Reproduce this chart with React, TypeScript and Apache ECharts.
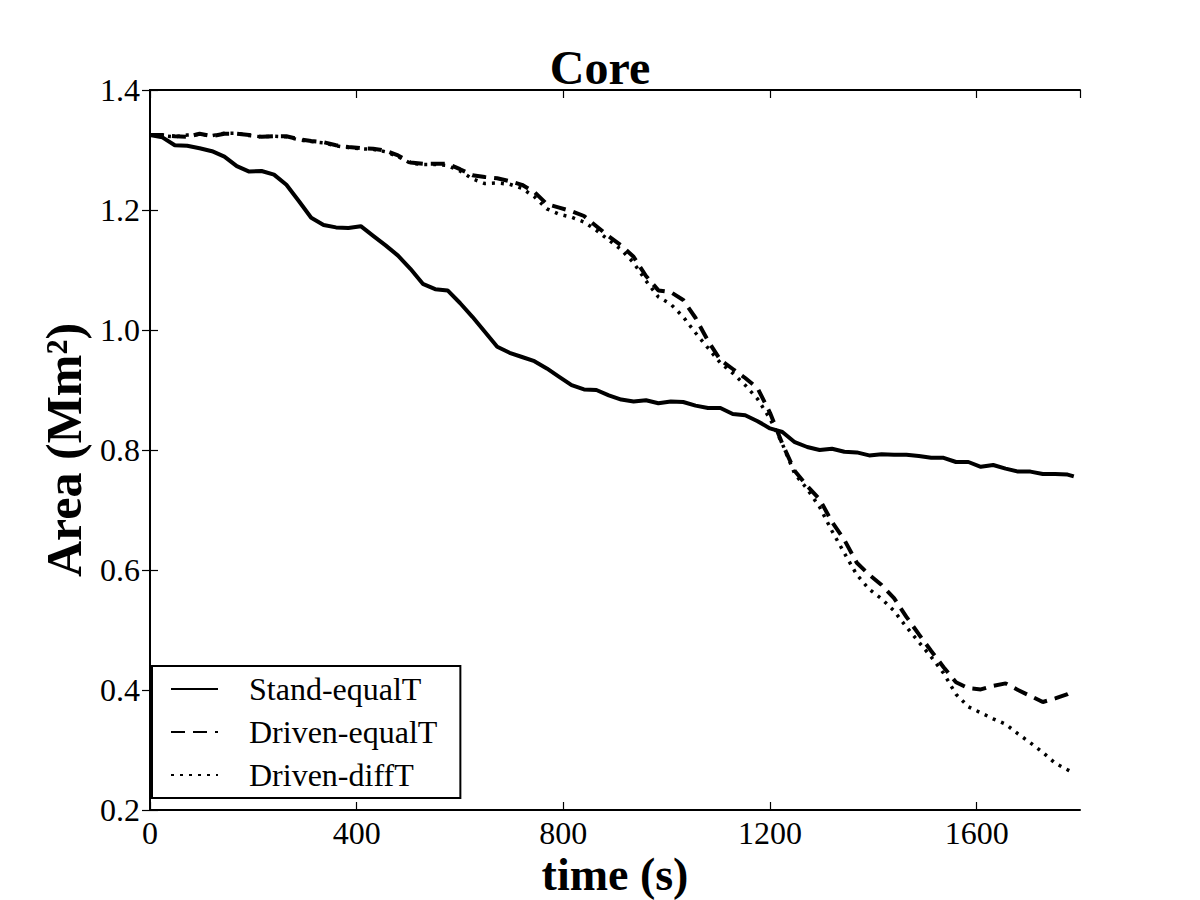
import React, { useEffect, useRef } from "react";
import * as echarts from "echarts";

// Sample times (s)
const times = [
  0, 24, 48, 72, 96, 120, 144, 168, 192, 216, 240, 264, 288, 312, 336, 360,
  384, 408, 432, 456, 480, 504, 528, 552, 576, 600, 624, 648, 672, 696, 720,
  744, 768, 792, 816, 840, 864, 888, 912, 936, 960, 984, 1008, 1032, 1056,
  1080, 1104, 1128, 1152, 1176, 1200, 1224, 1248, 1272, 1296, 1320, 1344,
  1368, 1392, 1416, 1440, 1464, 1488, 1512, 1536, 1560, 1584, 1608, 1632,
  1656, 1680, 1704, 1728, 1752, 1776, 1788,
];

// Core area (Mm^2)
const standEqualT = [
  1.325, 1.321, 1.308, 1.307, 1.303, 1.298, 1.289, 1.273, 1.264, 1.265, 1.259,
  1.242, 1.215, 1.187, 1.175, 1.171, 1.17, 1.173, 1.157, 1.141, 1.124, 1.102,
  1.077, 1.068, 1.066, 1.045, 1.022, 0.997, 0.972, 0.962, 0.955, 0.948, 0.936,
  0.922, 0.908, 0.901, 0.9, 0.891, 0.884, 0.881, 0.883, 0.878, 0.881, 0.88,
  0.874, 0.87, 0.87, 0.86, 0.858, 0.848, 0.836, 0.83, 0.813, 0.805, 0.8, 0.802,
  0.797, 0.796, 0.791, 0.793, 0.792, 0.792, 0.79, 0.787, 0.787, 0.78, 0.78,
  0.772, 0.775, 0.769, 0.764, 0.764, 0.76, 0.76, 0.759, 0.756,
];

const drivenEqualT = [
  1.325, 1.325, 1.323, 1.322, 1.327, 1.323, 1.327, 1.327, 1.325, 1.322, 1.323,
  1.323, 1.318, 1.315, 1.313, 1.308, 1.305, 1.303, 1.302, 1.299, 1.291, 1.279,
  1.277, 1.277, 1.277, 1.268, 1.258, 1.255, 1.253, 1.248, 1.242, 1.23, 1.21,
  1.204, 1.198, 1.19, 1.173, 1.156, 1.141, 1.122, 1.09, 1.066, 1.063, 1.05,
  1.02, 0.982, 0.95, 0.935, 0.92, 0.903, 0.862, 0.81, 0.765, 0.74, 0.718, 0.68,
  0.65, 0.612, 0.592, 0.575, 0.553, 0.522, 0.493, 0.465, 0.438, 0.413, 0.403,
  0.401, 0.407, 0.411, 0.4, 0.39, 0.38, 0.386, 0.393, 0.398,
];

const drivenDiffT = [
  1.325, 1.324, 1.322, 1.325, 1.326, 1.324, 1.328, 1.328, 1.324, 1.322, 1.323,
  1.322, 1.317, 1.314, 1.312, 1.307, 1.304, 1.302, 1.301, 1.297, 1.289, 1.278,
  1.276, 1.276, 1.274, 1.265, 1.252, 1.244, 1.245, 1.243, 1.236, 1.222, 1.202,
  1.193, 1.188, 1.18, 1.166, 1.15, 1.134, 1.112, 1.082, 1.055, 1.043, 1.022,
  0.995, 0.97, 0.945, 0.928, 0.908, 0.885, 0.852, 0.81, 0.76, 0.735, 0.705,
  0.665, 0.628, 0.592, 0.568, 0.552, 0.532, 0.505, 0.48, 0.455, 0.428, 0.393,
  0.372, 0.362, 0.352, 0.343, 0.327, 0.312, 0.296, 0.278, 0.267, 0.262,
];

const seriesNames = ["Stand-equalT", "Driven-equalT", "Driven-diffT"];
const xTicks = { min: 0, max: 1800, step: 400 };
const yTicks = { min: 0.2, max: 1.4, step: 0.2 };

const SERIF = "'Liberation Serif', 'DejaVu Serif', serif";

function pairs(vals: number[]) {
  return times.map((t, i) => [t, vals[i]]);
}

export default function App() {
  const ref = useRef<HTMLDivElement>(null);

  useEffect(() => {
    if (!ref.current) return;
    const chart = echarts.init(ref.current, null, { renderer: "svg" });

    const axisLine = { show: true, lineStyle: { color: "#000", width: 2 } };
    const axisTick = {
      show: true,
      inside: true,
      length: 8,
      lineStyle: { color: "#000", width: 1.2 },
    };

    chart.setOption({
      animation: false,
      backgroundColor: "#fff",
      title: {
        text: "Core",
        left: "center",
        top: 38,
        textStyle: {
          fontFamily: SERIF,
          fontSize: 48,
          fontWeight: "bold",
          color: "#000",
        },
      },
      grid: {
        left: 150,
        right: 120,
        top: 90,
        bottom: 90,
        containLabel: false,
        outerBoundsMode: "none",
      },
      legend: {
        show: true,
        orient: "vertical",
        left: 152,
        top: 666,
        data: seriesNames,
        itemWidth: 47,
        itemHeight: 14,
        itemGap: 11,
        padding: [7, 23, 7, 18],
        backgroundColor: "#fff",
        borderColor: "#000",
        borderWidth: 2,
        borderRadius: 0,
        itemStyle: { opacity: 0, color: "transparent", borderWidth: 0 },
        textStyle: {
          fontFamily: SERIF,
          fontSize: 32,
          color: "#000",
          padding: [0, 0, 0, 26],
        },
      },
      xAxis: [
        {
          type: "value",
          position: "bottom",
          min: xTicks.min,
          max: xTicks.max,
          interval: xTicks.step,
          axisLine,
          axisTick,
          splitLine: { show: false },
          axisLabel: {
            show: true,
            color: "#000",
            fontFamily: SERIF,
            fontSize: 32,
            lineHeight: 30,
            margin: 8,
            showMaxLabel: false,
            formatter: (v: number) => String(v),
          },
          name: "time (s)",
          nameLocation: "middle",
          nameGap: 44,
          nameMoveOverlap: false,
          nameTextStyle: {
            fontFamily: SERIF,
            fontSize: 46,
            fontWeight: "bold",
            color: "#000",
            lineHeight: 40,
          },
        },
        {
          type: "value",
          position: "top",
          min: xTicks.min,
          max: xTicks.max,
          interval: xTicks.step,
          axisLine,
          axisTick,
          splitLine: { show: false },
          axisLabel: { show: false },
        },
      ],
      yAxis: [
        {
          type: "value",
          position: "left",
          min: yTicks.min,
          max: yTicks.max,
          interval: yTicks.step,
          axisLine,
          axisTick,
          splitLine: { show: false },
          axisLabel: {
            show: true,
            color: "#000",
            fontFamily: SERIF,
            fontSize: 32,
            margin: 10,
            formatter: (v: number) => v.toFixed(1),
          },
          name: "Area (Mm²)",
          nameLocation: "middle",
          nameGap: 60,
          nameTextStyle: {
            fontFamily: SERIF,
            fontSize: 50,
            fontWeight: "bold",
            color: "#000",
          },
        },
        {
          type: "value",
          position: "right",
          min: yTicks.min,
          max: yTicks.max,
          interval: yTicks.step,
          axisLine,
          axisTick,
          splitLine: { show: false },
          axisLabel: { show: false },
        },
      ],
      series: [
        {
          name: seriesNames[0],
          type: "line",
          data: pairs(standEqualT),
          showSymbol: false,
          symbol: "none",
          lineStyle: { color: "#000", width: 4, type: "solid" },
          itemStyle: { color: "#000" },
        },
        {
          name: seriesNames[1],
          type: "line",
          data: pairs(drivenEqualT),
          showSymbol: false,
          symbol: "none",
          lineStyle: { color: "#000", width: 4, type: [14, 8] },
          itemStyle: { color: "#000" },
        },
        {
          name: seriesNames[2],
          type: "line",
          data: pairs(drivenDiffT),
          showSymbol: false,
          symbol: "none",
          lineStyle: { color: "#000", width: 3.5, type: [3, 6] },
          itemStyle: { color: "#000" },
        },
      ],
    });

    return () => chart.dispose();
  }, []);

  return (
    <div
      ref={ref}
      style={{ position: "fixed", left: 0, top: 0, width: 1200, height: 900 }}
    />
  );
}
